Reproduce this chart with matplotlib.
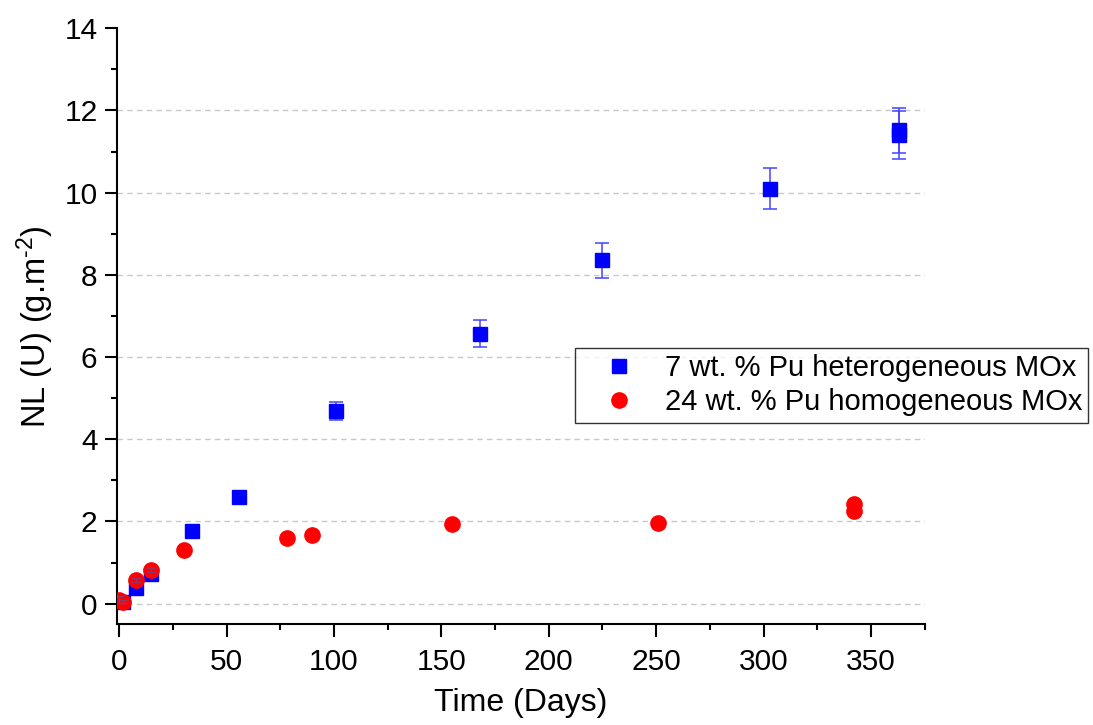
import numpy as np
import matplotlib
matplotlib.use("Agg")
import matplotlib.pyplot as plt
from matplotlib.ticker import MultipleLocator
from matplotlib.lines import Line2D

plt.rcParams['font.family'] = ['Liberation Sans', 'DejaVu Sans']
plt.rcParams['mathtext.default'] = 'regular'

# 7 wt.% Pu heterogeneous MOx (blue squares)
days_het = [2, 8, 15, 34, 56, 101, 168, 225, 303, 363, 363]
nl_het = [0.05, 0.38, 0.71, 1.78, 2.60, 4.68, 6.57, 8.35, 10.10, 11.52, 11.40]
err_het = [0.03, 0.05, 0.06, 0.0, 0.0, 0.22, 0.32, 0.43, 0.50, 0.55, 0.58]

# 24 wt.% Pu homogeneous MOx (red circles)
days_hom = [0, 2, 8, 15, 30, 78, 90, 155, 251, 342, 342]
nl_hom = [0.10, 0.05, 0.57, 0.82, 1.31, 1.59, 1.66, 1.93, 1.96, 2.42, 2.25]
err_hom = [0.08, 0.03, 0.05, 0.06, 0.0, 0.0, 0.0, 0.0, 0.0, 0.0, 0.0]

lab_het = '7 wt. % Pu heterogeneous MOx'
lab_hom = '24 wt. % Pu homogeneous MOx'


def with_err(x, y, e):
    # keep only the points that carry an error bar
    idx = [i for i in range(len(e)) if e[i] > 0]
    return [x[i] for i in idx], [y[i] for i in idx], [e[i] for i in idx]


fig = plt.figure(figsize=(10.93, 7.25), dpi=100)
ax = fig.add_axes([0.107, 0.139, 0.739, 0.822])

xe, ye, ee = with_err(days_het, nl_het, err_het)
ax.errorbar(xe, ye, yerr=ee, fmt='none', ecolor='#4444ff', elinewidth=1.1,
            capsize=4.7, capthick=1.1, zorder=2)
ax.plot(days_het, nl_het, 's', color='#0000ff', ms=9.5, zorder=3)

ax.plot(days_hom, nl_hom, 'o', color='#ff0000', ms=11, zorder=4)
xe, ye, ee = with_err(days_hom, nl_hom, err_hom)
ax.errorbar(xe, ye, yerr=ee, fmt='none', ecolor='#993366', elinewidth=1.0,
            capsize=3.5, capthick=1.0, zorder=5)

ax.set_xlim(-1, 375)
ax.set_ylim(-0.5, 14)
ax.xaxis.set_major_locator(MultipleLocator(50))
ax.xaxis.set_minor_locator(MultipleLocator(25))
ax.yaxis.set_major_locator(MultipleLocator(2))
ax.yaxis.set_minor_locator(MultipleLocator(1))

# dashed guides at the major y ticks
for yv in np.arange(0, 13, 2):
    ax.axhline(yv, color='#c8c8c8', ls=(0, (4, 3)), lw=1.0, zorder=1)

for s in ['top', 'right']:
    ax.spines[s].set_visible(False)
for s in ['left', 'bottom']:
    ax.spines[s].set_linewidth(1.5)

ax.tick_params(axis='both', which='major', direction='out', length=9, width=1.5,
               labelsize=21.5)
ax.tick_params(axis='x', which='major', pad=8)
ax.tick_params(axis='y', which='major', pad=5)
ax.tick_params(axis='both', which='minor', direction='out', length=4.5, width=1.5)

ax.set_xlabel('Time (Days)', fontsize=23, labelpad=9)
# short hyphen in the exponent rather than the long math minus
ax.set_ylabel('NL (U) (g.m$^{\u2010 2}$)', fontsize=23.5, labelpad=6)

handles = [Line2D([], [], marker='s', ls='none', color='#0000ff', ms=9.5),
           Line2D([], [], marker='o', ls='none', color='#ff0000', ms=11)]
leg = ax.legend(handles, [lab_het, lab_hom], loc='upper left',
                bbox_to_anchor=(575 / 1093, 1 - 348 / 725),
                bbox_transform=fig.transFigure, fontsize=21, frameon=True,
                fancybox=False, edgecolor='black', borderpad=0.22,
                handletextpad=0.25, labelspacing=0.2, handlelength=2.6,
                borderaxespad=0)
leg.get_frame().set_linewidth(1.0)

fig.savefig('out.png', dpi=100)
